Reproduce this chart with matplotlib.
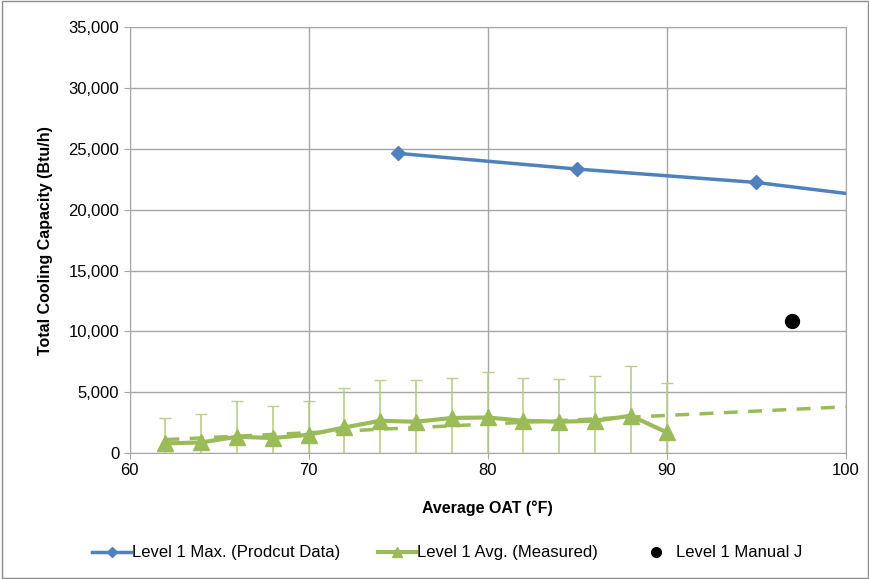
import matplotlib
matplotlib.use("Agg")
import matplotlib.pyplot as plt
from matplotlib.patches import Rectangle

# Level 1 max. (product data)
max_oat = [75, 85, 95, 100]
max_cap = [24630, 23340, 22240, 21340]
max_marked = [0, 1, 2]   # 100 °F end has no marker

# Level 1 avg. (measured) with upper error tops
avg_oat = [62, 64, 66, 68, 70, 72, 74, 76, 78, 80, 82, 84, 86, 88, 90]
avg_cap = [790, 870, 1340, 1230, 1500, 2100, 2650, 2570, 2880, 2920, 2650, 2570, 2650, 3060, 1700]
avg_top = [2880, 3200, 4300, 3860, 4300, 5340, 6000, 6000, 6200, 6650, 6160, 6080, 6300, 7150, 5750]

# dashed trend of the measured averages
trend_oat = [62, 100]
trend_cap = [1100, 3800]

# Level 1 Manual J
manj_oat = [97]
manj_cap = [10850]

BLUE = "#4f81bd"
GREEN = "#9bbb59"
GREEN_LIGHT = "#b8d08a"
GRID = "#a6a6a6"

plt.rcParams["font.family"] = ["Liberation Sans", "DejaVu Sans"]

fig = plt.figure(figsize=(8.7, 5.79), dpi=100)
ax = fig.add_axes([0.149, 0.2176, 0.823, 0.7354])

err = [c_top - c for c, c_top in zip(avg_cap, avg_top)]
ax.errorbar(avg_oat, avg_cap, yerr=err, fmt="none", ecolor=GREEN_LIGHT,
            elinewidth=1.2, capsize=4, capthick=1.0, zorder=2)
ax.plot(trend_oat, trend_cap, "--", color=GREEN, lw=2.5, dashes=(4, 3), zorder=3)
ax.plot(avg_oat, avg_cap, "-^", color=GREEN, lw=3, ms=11, zorder=4,
        label="Level 1 Avg. (Measured)")
ax.plot(max_oat, max_cap, "-D", color=BLUE, lw=2.5, ms=7, markevery=max_marked,
        zorder=4, label="Level 1 Max. (Prodcut Data)")
ax.plot(manj_oat, manj_cap, "o", color="black", ms=10, ls="none", zorder=5,
        label="Level 1 Manual J")

ax.set_xlim(60, 100)
ax.set_ylim(0, 35000)
ax.set_xticks(range(60, 101, 10))
ax.set_yticks(range(0, 35001, 5000))
ax.yaxis.set_major_formatter(matplotlib.ticker.FuncFormatter(lambda v, p: f"{int(v):,}"))
ax.grid(True, color=GRID, lw=1)
ax.set_axisbelow(True)
for s in ax.spines.values():
    s.set_color(GRID)
ax.tick_params(colors=GRID, labelcolor="black", labelsize=12, length=4)
ax.set_xlabel("Average OAT (°F)", fontsize=11.5, fontweight="bold", labelpad=16)
ax.set_ylabel("Total Cooling Capacity (Btu/h)", fontsize=11.5, fontweight="bold", labelpad=11)

h, l = ax.get_legend_handles_labels()
order = [1, 0, 2]
fig.legend([h[i] for i in order], [l[i] for i in order], loc="center",
           bbox_to_anchor=(0.514, 0.045), ncol=3, frameon=False, fontsize=12,
           handlelength=2.3, handletextpad=0.05, columnspacing=2.3, markerscale=0.7)

fig.add_artist(Rectangle((0.002, 0.002), 0.996, 0.996, transform=fig.transFigure,
                         fill=False, edgecolor="#8c8c8c", lw=1))

fig.savefig("out.png", dpi=100)
